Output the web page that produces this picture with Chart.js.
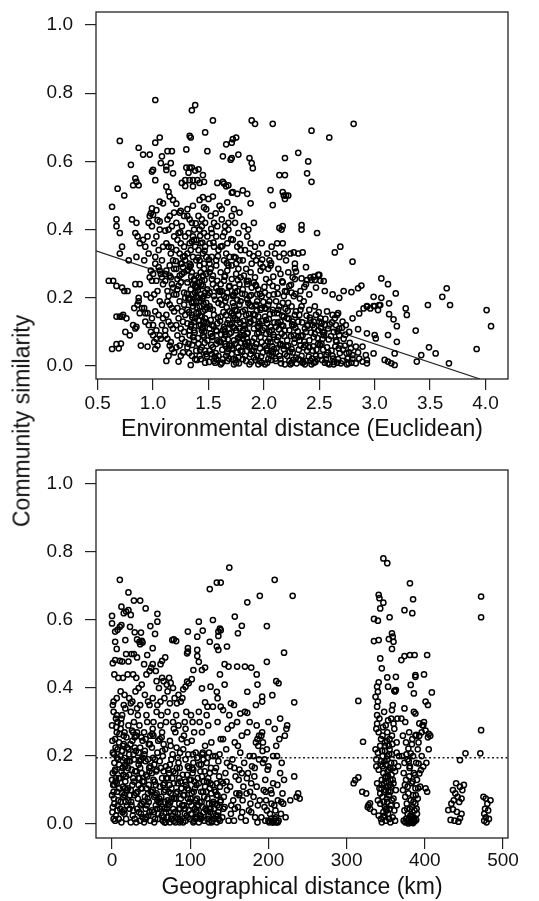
<!DOCTYPE html>
<html lang="en">
<head>
<meta charset="UTF-8">
<title>Community similarity vs distance</title>
<script src="https://cdn.jsdelivr.net/npm/chart.js"></script>
<style>
  body { margin: 0; background: #fff; font-family: "Liberation Sans", Arial, sans-serif; }
  .panel { position: absolute; left: 0; width: 539px; }
  #top { top: 0; height: 450px; }
  #bottom { top: 450px; height: 451px; }
  .ytitle {
    position: absolute; left: 22px; top: 421px;
    transform: translate(-50%, -50%) rotate(-90deg);
    font-size: 23px; color: #111; white-space: nowrap;
  }
</style>
</head>
<body>
<div class="panel" id="top"><canvas id="envChart" width="539" height="450"></canvas></div>
<div class="panel" id="bottom"><canvas id="geoChart" width="539" height="451"></canvas></div>
<div class="ytitle">Community similarity</div>

<script>
// Tick labels
const envTicks = [0.5, 1.0, 1.5, 2.0, 2.5, 3.0, 3.5, 4.0];
const geoTicks = [0, 100, 200, 300, 400, 500];
const simTicks = [0.0, 0.2, 0.4, 0.6, 0.8, 1.0];

// Fitted line (top) and mean similarity (bottom)
const fitX = [0.485, 3.95];
const fitY = [0.338, -0.038];
const meanSim = 0.195;

// Top panel: [environmental distance, community similarity]
const envSim = [
[1.02,.78],[1.38,.765],[1.35,.75],[1.54,.72],[1.89,.72],[1.92,.71],[2.08,.71],[2.81,.71],[2.43,.69],[2.59,.67],
[.70,.66],[1.02,.655],[1.06,.67],[1.33,.675],[1.34,.67],[1.47,.685],[1.66,.65],[1.71,.655],[1.72,.665],[1.75,.67],
[.87,.64],[.91,.62],[.97,.62],[1.08,.615],[1.13,.63],[1.17,.63],[1.30,.635],[1.49,.63],[1.63,.615],[1.70,.605],
[1.71,.61],[1.77,.62],[1.87,.61],[1.89,.595],[1.90,.58],[2.19,.61],[2.31,.625],[2.40,.60],[2.39,.565],[2.43,.54],
[.80,.59],[1.00,.575],[.99,.57],[1.02,.545],[1.07,.595],[1.12,.585],[1.16,.595],[1.12,.575],[1.18,.565],
[1.32,.567],[1.30,.582],[1.33,.582],[1.35,.582],[1.38,.573],[1.41,.577],[1.45,.56],[1.40,.545],[1.36,.545],[1.33,.545],
[1.29,.545],[1.26,.537],[1.29,.528],[1.36,.527],[1.42,.537],[1.46,.54],[1.58,.537],[1.63,.54],[1.64,.535],[1.66,.527],[1.68,.53],
[1.71,.508],[1.72,.51],[1.76,.505],[1.81,.515],[1.85,.505],[1.88,.477],[2.06,.516],[2.08,.472],[2.17,.51],[2.18,.50],
[2.20,.50],[2.22,.50],[2.19,.49],[2.14,.56],[2.19,.56],[1.54,.497],[1.50,.49],[1.45,.495],[1.42,.487],[1.46,.465],[1.48,.46],
[1.12,.526],[1.14,.511],[1.15,.497],[1.18,.487],[1.21,.476],[1.06,.482],[1.09,.477],[.99,.462],[1.03,.457],[.98,.448],[1.00,.443],
[.63,.467],[.68,.52],[.74,.50],[.82,.53],[.84,.55],[.85,.54],[.87,.53],[1.60,.47],[1.62,.46],[1.67,.48],[1.73,.46],[1.78,.45],
[1.36,.47],[1.31,.46],[1.25,.455],
[.67,.43],[.67,.41],[.70,.39],[.72,.35],[.70,.33],[.81,.43],[.85,.42],[.84,.39],[.86,.38],[.88,.36],[.85,.32],[.78,.31],
[.91,.37],[.93,.35],[.95,.38],[.97,.44],[.96,.42],[.92,.31],[.96,.33],[.99,.41],
[1.04,.428],[1.06,.424],[1.06,.40],[1.11,.397],[1.01,.36],[1.03,.38],[1.05,.34],[1.08,.31],[1.09,.35],[1.02,.32],
[1.13,.43],[1.15,.44],[1.17,.41],[1.19,.45],[1.12,.36],[1.14,.35],[1.16,.33],[1.18,.31],[1.19,.38],[1.14,.40],
[1.24,.45],[1.28,.44],[1.21,.42],[1.26,.41],[1.23,.39],[1.29,.38],[1.22,.37],[1.25,.36],[1.28,.35],[1.21,.34],
[1.24,.33],[1.27,.32],[1.29,.31],[1.26,.30],
[1.31,.44],[1.33,.43],[1.35,.42],[1.37,.40],[1.32,.39],[1.36,.38],[1.39,.37],[1.33,.36],[1.38,.35],[1.34,.34],
[1.31,.33],[1.36,.32],[1.39,.31],[1.33,.30],[1.37,.37],[1.35,.365],
[1.41,.44],[1.44,.43],[1.47,.42],[1.42,.40],[1.46,.39],[1.49,.38],[1.43,.36],[1.47,.35],[1.41,.34],[1.45,.33],
[1.48,.32],[1.42,.31],[1.46,.30],[1.44,.41],
[1.52,.44],[1.55,.42],[1.58,.41],[1.53,.39],[1.57,.38],[1.51,.36],[1.55,.35],[1.59,.34],[1.53,.32],[1.57,.31],[1.51,.30],
[1.62,.43],[1.65,.41],[1.68,.40],[1.63,.38],[1.67,.36],[1.61,.35],[1.66,.33],[1.69,.32],[1.64,.31],[1.68,.42],
[1.71,.44],[1.74,.42],[1.77,.39],[1.72,.37],[1.76,.35],[1.79,.34],[1.73,.32],[1.78,.31],[1.75,.30],
[1.82,.41],[1.85,.38],[1.88,.36],[1.83,.34],[1.87,.33],[1.81,.31],[1.89,.30],[1.86,.40],
[1.92,.35],[1.95,.33],[1.98,.36],[1.93,.31],[1.97,.30],[1.91,.42],
[2.03,.33],[2.07,.35],[2.10,.33],[2.05,.31],[2.14,.32],[2.18,.33],[2.12,.36],[2.16,.40],[2.17,.41],[2.14,.405],
[2.34,.413],[2.34,.40],[2.48,.39],[2.17,.36],[2.24,.33],[2.31,.33],[2.27,.333],[2.35,.333],[2.38,.29],[2.64,.333],
[2.69,.35],[2.80,.306],[2.20,.31],[2.28,.30],
[.60,.25],[.64,.25],[.67,.235],[.72,.23],[.74,.22],[.77,.22],[.84,.24],[.88,.24],[.87,.20],[.94,.21],[.98,.20],
[.98,.28],[.97,.26],[.99,.25],[1.02,.30],[1.05,.29],[1.07,.27],[1.00,.27],[1.03,.25],[1.09,.24],[1.04,.22],[1.01,.21],
[1.06,.28],[1.08,.26],
[1.11,.27],[1.13,.22],[1.15,.295],[1.17,.24],[1.19,.21],[1.12,.28],[1.14,.205],[1.16,.26],[1.18,.23],[1.11,.25],[1.15,.265],[1.19,.285],
[1.22,.255],[1.25,.30],[1.28,.215],[1.21,.285],[1.23,.235],[1.26,.27],[1.29,.20],[1.22,.225],[1.25,.245],[1.27,.29],[1.21,.21],[1.24,.265],[1.28,.275],
[1.31,.245],[1.33,.29],[1.36,.21],[1.39,.265],[1.32,.20],[1.35,.275],[1.38,.235],[1.31,.28],[1.34,.225],[1.37,.255],[1.39,.205],[1.34,.295],[1.36,.24],[1.38,.215],
[1.41,.26],[1.43,.21],[1.46,.285],[1.49,.225],[1.42,.295],[1.45,.235],[1.48,.27],[1.41,.20],[1.44,.25],[1.47,.215],[1.43,.275],[1.46,.205],[1.40,.23],[1.42,.245],[1.45,.265],
[1.51,.215],[1.54,.265],[1.57,.23],[1.52,.285],[1.55,.205],[1.58,.25],[1.51,.275],[1.54,.24],[1.57,.295],[1.59,.22],[1.53,.255],
[1.61,.24],[1.64,.205],[1.67,.28],[1.62,.22],[1.65,.265],[1.68,.295],[1.61,.275],[1.64,.25],[1.67,.215],[1.69,.235],[1.66,.20],
[1.71,.255],[1.74,.215],[1.77,.285],[1.72,.205],[1.75,.27],[1.78,.24],[1.71,.295],[1.74,.23],[1.79,.26],[1.76,.22],
[1.81,.225],[1.84,.285],[1.87,.205],[1.82,.265],[1.85,.24],[1.88,.275],[1.83,.21],[1.86,.25],[1.89,.23],
[1.91,.245],[1.94,.21],[1.97,.28],[1.92,.26],[1.95,.225],[1.99,.29],[1.93,.235],[1.98,.205],
[2.01,.215],[2.04,.285],[2.08,.235],[2.02,.255],[2.06,.295],[2.09,.21],[2.05,.245],
[2.12,.23],[2.15,.27],[2.18,.205],[2.13,.285],[2.17,.245],[2.19,.22],
[2.22,.275],[2.25,.215],[2.28,.255],[2.23,.235],[2.27,.205],
[2.28,.287],[2.29,.277],[2.26,.26],[2.34,.257],[2.39,.252],[2.42,.26],[2.46,.252],[2.50,.267],[2.54,.249],
[2.45,.262],[2.49,.267],[2.43,.252],[2.51,.25],[2.33,.22],[2.38,.24],[2.41,.21],[2.47,.23],[2.55,.22],[2.62,.21],
[2.68,.20],[2.72,.22],[2.79,.217],[2.85,.228],[2.88,.236],[3.06,.257],[3.12,.24],[3.19,.213],[3.65,.228],[3.61,.203],
[2.99,.203],[3.06,.20],
[.67,.145],[.70,.145],[.73,.15],[.72,.145],[.76,.14],[.75,.10],[.84,.11],[.85,.115],[.82,.12],[.86,.18],[.87,.19],
[.83,.17],[.88,.155],[.90,.17],[.92,.17],[.93,.155],[.95,.155],[.93,.13],[.96,.12],[.98,.10],[.99,.14],
[1.02,.16],[1.05,.15],[1.09,.14],[1.00,.12],[1.08,.12],[1.06,.19],[1.08,.18],[1.03,.105],
[1.13,.19],[1.15,.18],[1.17,.17],[1.19,.16],[1.12,.15],[1.14,.13],[1.16,.12],[1.18,.11],[1.11,.105],
[1.24,.19],[1.28,.18],[1.22,.17],[1.26,.16],[1.29,.15],[1.23,.14],[1.27,.13],[1.21,.12],[1.25,.11],[1.28,.10],
[1.31,.165],[1.33,.105],[1.35,.185],[1.37,.13],[1.39,.155],[1.32,.195],[1.34,.115],[1.36,.175],[1.38,.14],[1.31,.125],[1.35,.15],[1.37,.105],[1.39,.19],
[1.41,.135],[1.43,.19],[1.45,.11],[1.47,.165],[1.49,.125],[1.42,.175],[1.44,.145],[1.46,.10],[1.48,.185],[1.41,.155],[1.43,.12],[1.45,.16],[1.47,.14],[1.44,.105],[1.46,.13],
[1.51,.175],[1.53,.12],[1.55,.15],[1.57,.105],[1.59,.185],[1.52,.135],[1.54,.165],[1.56,.195],[1.58,.125],[1.51,.11],
[1.61,.145],[1.63,.105],[1.65,.19],[1.67,.125],[1.69,.16],[1.62,.18],[1.64,.115],[1.66,.15],[1.68,.135],[1.61,.195],[1.65,.10],
[1.71,.125],[1.73,.175],[1.75,.105],[1.77,.15],[1.79,.19],[1.72,.115],[1.74,.165],[1.76,.135],[1.78,.18],[1.71,.155],[1.74,.14],[1.76,.195],[1.78,.11],[1.72,.185],
[1.81,.16],[1.83,.11],[1.85,.195],[1.87,.14],[1.89,.175],[1.82,.12],[1.84,.15],[1.86,.185],[1.88,.13],[1.81,.105],[1.83,.165],[1.87,.125],
[1.91,.135],[1.93,.18],[1.95,.115],[1.97,.165],[1.99,.105],[1.92,.15],[1.94,.19],[1.96,.125],[1.98,.17],[1.91,.11],[1.95,.145],
[2.01,.17],[2.03,.125],[2.05,.19],[2.07,.105],[2.09,.155],[2.02,.135],[2.04,.18],[2.06,.115],[2.08,.165],[2.01,.145],[2.05,.10],
[2.11,.115],[2.13,.165],[2.15,.13],[2.17,.185],[2.19,.105],[2.12,.155],[2.14,.175],[2.16,.12],[2.18,.145],[2.11,.19],
[2.21,.14],[2.23,.105],[2.25,.175],[2.27,.12],[2.29,.16],[2.22,.185],[2.26,.13],[2.28,.15],
[2.31,.13],[2.34,.175],[2.37,.11],[2.32,.15],[2.36,.19],[2.39,.12],[2.33,.165],[2.38,.10],
[2.41,.165],[2.44,.12],[2.47,.15],[2.42,.135],[2.46,.175],[2.49,.105],[2.45,.13],
[2.51,.14],[2.50,.13],[2.52,.125],[2.55,.12],[2.58,.11],[2.53,.10],[2.57,.16],
[2.62,.15],[2.64,.14],[2.66,.15],[2.67,.155],[2.65,.12],[2.68,.11],[2.63,.10],[2.71,.13],[2.74,.12],[2.77,.10],[2.80,.14],
[2.86,.154],[2.90,.169],[2.93,.176],[2.99,.176],[3.03,.164],[3.05,.179],[2.93,.174],[2.96,.169],[3.00,.176],[3.04,.179],
[3.13,.184],[3.28,.169],[3.29,.15],[3.20,.117],[3.17,.137],[3.13,.152],[3.48,.179],[3.68,.179],[4.01,.164],[4.05,.117],
[3.37,.104],[2.85,.108],[2.93,.096],[3.00,.091],[3.01,.081],
[.63,.05],[.67,.064],[.69,.052],[.71,.066],[.79,.09],[.89,.06],[.95,.057],
[1.00,.09],[1.01,.07],[1.04,.06],[1.03,.08],[1.06,.09],[1.02,.05],[1.07,.08],
[1.11,.09],[1.13,.08],[1.15,.06],[1.17,.05],[1.19,.04],[1.14,.03],[1.12,.015],[1.16,.07],
[1.22,.09],[1.26,.08],[1.29,.07],[1.24,.06],[1.27,.04],[1.23,.013],[1.25,.03],[1.21,.055],
[1.31,.055],[1.33,.09],[1.35,.03],[1.37,.075],[1.39,.045],[1.32,.065],[1.34,.003],[1.36,.085],[1.38,.02],
[1.41,.065],[1.43,.02],[1.45,.09],[1.47,.045],[1.49,.075],[1.42,.03],[1.44,.055],[1.47,.01],[1.46,.085],[1.48,.035],
[1.51,.045],[1.53,.085],[1.55,.015],[1.57,.065],[1.59,.03],[1.52,.095],[1.54,.055],[1.56,.01],[1.58,.075],[1.53,.035],[1.57,.02],
[1.61,.07],[1.63,.02],[1.65,.09],[1.67,.04],[1.69,.06],[1.62,.01],[1.64,.08],[1.66,.03],[1.68,.05],[1.61,.005],[1.65,.065],[1.67,.015],[1.69,.095],
[1.71,.035],[1.73,.075],[1.75,.01],[1.77,.055],[1.79,.09],[1.72,.02],[1.74,.065],[1.76,.04],[1.78,.085],[1.71,.06],[1.73,.005],[1.77,.025],[1.79,.045],
[1.81,.08],[1.83,.03],[1.85,.06],[1.87,.005],[1.89,.045],[1.82,.09],[1.84,.015],[1.86,.07],[1.88,.035],[1.81,.02],[1.85,.095],[1.87,.055],[1.83,.065],
[1.91,.025],[1.93,.065],[1.95,.005],[1.97,.085],[1.99,.04],[1.92,.055],[1.94,.095],[1.96,.015],[1.98,.07],[1.91,.045],[1.94,.03],[1.98,.01],
[2.01,.06],[2.03,.01],[2.05,.08],[2.07,.03],[2.09,.05],[2.02,.095],[2.04,.02],[2.06,.07],[2.08,.04],[2.01,.005],[2.05,.035],[2.09,.085],[2.03,.045],
[2.11,.04],[2.13,.085],[2.15,.02],[2.17,.06],[2.19,.005],[2.12,.075],[2.14,.03],[2.16,.095],[2.18,.05],[2.11,.015],[2.15,.065],[2.19,.035],
[2.21,.075],[2.23,.015],[2.25,.05],[2.27,.09],[2.29,.025],[2.22,.06],[2.24,.005],[2.26,.04],[2.28,.08],[2.21,.03],[2.25,.01],
[2.31,.02],[2.33,.06],[2.35,.09],[2.37,.005],[2.39,.045],[2.32,.075],[2.34,.03],[2.36,.055],[2.38,.015],[2.31,.085],[2.35,.01],
[2.41,.055],[2.43,.005],[2.45,.085],[2.47,.03],[2.49,.065],[2.42,.015],[2.44,.045],[2.46,.095],[2.48,.02],[2.41,.075],[2.45,.01],
[2.51,.03],[2.53,.08],[2.55,.01],[2.57,.055],[2.59,.005],[2.52,.065],[2.56,.02],[2.58,.04],[2.54,.09],
[2.61,.045],[2.63,.005],[2.65,.075],[2.67,.02],[2.69,.06],[2.62,.03],[2.66,.01],[2.68,.09],
[2.71,.015],[2.73,.06],[2.75,.005],[2.77,.04],[2.72,.08],[2.76,.025],[2.79,.01],
[2.80,.032],[2.80,.022],[2.83,.008],[2.86,.022],[2.89,.013],[2.89,.057],[2.83,.057],[2.85,.04],
[2.93,.018],[2.93,.008],[2.92,.032],[2.99,.037],[3.12,.091],[3.20,.071],[3.18,.037],[3.15,.008],[3.18,.003],[3.12,.013],[3.09,.018],
[3.67,.008],[3.55,.037],[3.49,.055],[3.42,.032],[3.38,.013],[3.92,.05]
];

// Top panel, the densest part of the cloud
const envDense = [
[1.505,.012],[1.525,.062],[1.545,.118],[1.565,.038],[1.585,.142],[1.515,.168],[1.535,.088],[1.555,.028],[1.575,.102],[1.595,.072],
[1.605,.132],[1.625,.048],[1.645,.108],[1.665,.172],[1.685,.022],[1.615,.092],[1.635,.158],[1.655,.058],[1.675,.078],[1.695,.122],
[1.705,.098],[1.725,.148],[1.745,.018],[1.765,.082],[1.785,.128],[1.715,.052],[1.735,.112],[1.755,.162],[1.775,.008],[1.795,.068],
[1.805,.042],[1.825,.118],[1.845,.082],[1.865,.152],[1.885,.012],[1.815,.132],[1.835,.058],[1.855,.098],[1.875,.178],[1.895,.072],
[1.905,.152],[1.925,.018],[1.945,.118],[1.965,.052],[1.985,.132],[1.915,.082],[1.935,.162],[1.955,.098],[1.975,.028],[1.995,.188],
[2.005,.112],[2.025,.052],[2.045,.138],[2.065,.018],[2.085,.092],[2.015,.168],[2.035,.072],[2.055,.152],[2.075,.058],[2.095,.128],
[2.105,.022],[2.125,.128],[2.145,.062],[2.165,.148],[2.185,.088],[2.115,.052],[2.135,.108],[2.155,.008],[2.175,.118],[2.195,.168],
[2.205,.058],[2.225,.138],[2.245,.088],[2.265,.018],[2.285,.112],[2.215,.162],[2.235,.042],[2.255,.122],[2.275,.068],[2.295,.008],
[2.305,.102],[2.325,.018],[2.345,.128],[2.365,.072],[2.385,.148],[2.315,.048],[2.335,.088],[2.355,.012],[2.375,.062],[2.395,.118],
[2.405,.028],[2.425,.098],[2.445,.058],[2.465,.012],[2.485,.082],[2.415,.142],[2.435,.022],[2.455,.112],[2.475,.048],[2.495,.158],
[2.505,.062],[2.525,.018],[2.545,.098],[2.565,.032],[2.585,.078],[2.515,.112],[2.535,.048],[2.555,.138],[2.575,.008],[2.595,.122],
[2.605,.088],[2.625,.022],[2.645,.058],[2.665,.102],[2.685,.038],[2.615,.128],[2.635,.012],[2.655,.072],[2.675,.052],[2.695,.008],
[2.715,.048],[2.735,.092],[2.755,.022],[2.775,.068],[2.705,.112],[2.745,.038],[2.765,.008],[2.785,.052],
[1.305,.212],[1.325,.158],[1.345,.262],[1.365,.188],[1.385,.232],[1.315,.282],[1.335,.198],[1.355,.142],[1.375,.252],[1.395,.172],
[1.405,.222],[1.425,.148],[1.445,.198],[1.465,.252],[1.485,.172],[1.415,.118],[1.435,.238],[1.455,.182],[1.475,.128],[1.495,.208],
[1.405,.082],[1.425,.048],[1.445,.112],[1.465,.068],[1.485,.028],[1.355,.062],[1.375,.098],[1.395,.018],[1.325,.038],[1.345,.122],
[1.605,.218],[1.645,.262],[1.685,.232],[1.725,.208],[1.765,.252],[1.805,.212],[1.845,.248],[1.885,.208],[1.925,.238],[1.965,.212],
[2.005,.232],[2.045,.208],[2.085,.262],[2.125,.212],[2.165,.248],[2.205,.218],[2.245,.238],[2.285,.212],[2.325,.198],[2.365,.232],
[1.505,.312],[1.545,.362],[1.585,.322],[1.625,.352],[1.665,.302],[1.705,.372],[1.745,.318],[1.785,.358],[1.245,.392],[1.285,.322],
[1.165,.348],[1.205,.308],[1.385,.418],[1.425,.382],[1.465,.338],[1.525,.402],[1.565,.448],[1.645,.392],[1.905,.322],[1.985,.312],
[2.065,.302],[1.405,.318],[1.445,.362]
];

// Bottom panel: [geographical distance (km), community similarity]
const geoSim = [
[10,.718],[21,.681],[12,.639],[15,.62],[18,.625],[21,.629],[24,.615],[28,.657],[36,.657],[43,.634],[58,.618],[58,.595],
[0,.612],[0,.59],[4,.566],[10,.58],[7,.571],[12,.585],[23,.58],[29,.564],[37,.563],[49,.582],[4,.536],[6,.515],[4,.482],
[1,.473],[17,.541],[32,.543],[35,.536],[38,.539],[36,.529],[39,.534],[52,.517],[55,.559],[45,.497],
[10,.48],[13,.478],[18,.50],[21,.478],[25,.50],[28,.50],[32,.49],[41,.47],[50,.46],[56,.45],[62,.47],[64,.48],[68,.49],
[77,.541],[79,.543],[82,.538],[97,.566],[97,.517],[97,.507],[111,.595],[116,.569],[109,.551],[109,.512],[109,.494],
[129,.60],[125,.536],[136,.553],[136,.566],[138,.575],[134,.522],[136,.512],[139,.57],
[150,.754],[125,.691],[134,.71],[139,.71],[173,.652],[189,.671],[208,.718],[231,.671],[157,.61],[166,.583],[161,.561],
[198,.582],[198,.477],[147,.522],[149,.463],[160,.463],[170,.463],[220,.504],
[173,.389],[192,.375],[192,.36],[213,.414],[205,.379],[233,.358],[115,.399],[126,.404],[134,.389],[135,.37],[94,.404],
[91,.396],[98,.414],[96,.419],[102,.426],[115,.453],[104,.453],[96,.502],[111,.477],[119,.358],
[3,.44],[8,.43],[14,.43],[20,.44],[27,.44],[31,.43],[44,.44],[48,.45],[52,.47],[57,.42],[60,.40],[64,.43],[66,.42],
[70,.41],[73,.43],[75,.415],[78,.40],[71,.39],[80,.37],[85,.38],[88,.36],
[2,.36],[6,.37],[11,.39],[16,.38],[22,.37],[26,.36],[30,.39],[34,.40],[38,.41],[42,.38],[46,.36],[52,.37],[58,.35],
[62,.36],[67,.37],[74,.355],[83,.355],[90,.37],[1,.35],[15,.35],[24,.355],[36,.35],[48,.35],
[152,.355],[156,.35],[164,.325],[173,.327],[122,.345],[129,.345],[139,.345],[142,.335],[144,.41],[138,.44],[184,.35],
[186,.41],[200,.30],[210,.42],[178,.46],[185,.44],[144,.47],[119,.46],
[1,.21],[3,.06],[0,.29],[5,.135],[2,.33],[7,.04],[4,.25],[9,.105],[1,.15],[6,.27],[3,.115],[8,.19],[0,.085],[5,.31],
[2,.015],[7,.22],[4,.16],[9,.24],[1,.05],[6,.12],[3,.18],[8,.07],[2,.095],[5,.025],[0,.13],[4,.01],[7,.30],[9,.175],[6,.32],
[11,.065],[14,.23],[17,.125],[12,.31],[15,.04],[19,.185],[13,.09],[16,.27],[18,.015],[11,.20],[14,.11],[17,.34],[12,.155],
[15,.26],[19,.055],[13,.215],[16,.03],[18,.14],[11,.28],[14,.08],[17,.17],[12,.005],[15,.235],[19,.10],[13,.32],[16,.195],
[22,.145],[25,.055],[28,.30],[21,.22],[24,.10],[27,.27],[29,.015],[23,.185],[26,.245],[21,.07],[28,.125],[24,.33],
[27,.04],[22,.205],[25,.16],[29,.255],[23,.085],[26,.115],[21,.29],[28,.19],[24,.005],[27,.135],[29,.225],
[31,.09],[34,.21],[37,.03],[32,.27],[35,.135],[38,.06],[33,.32],[36,.165],[39,.245],[31,.005],[34,.115],[37,.19],
[32,.045],[35,.29],[38,.15],[33,.075],[36,.225],[39,.02],[31,.26],[34,.175],[37,.105],[32,.34],[36,.01],[39,.125],
[41,.125],[44,.02],[47,.235],[42,.08],[45,.30],[48,.155],[43,.045],[46,.19],[49,.01],[41,.27],[44,.105],[47,.065],
[42,.215],[45,.14],[48,.035],[43,.25],[46,.09],[49,.17],[41,.005],[44,.32],[47,.115],[43,.185],[49,.26],
[51,.04],[54,.175],[57,.09],[52,.28],[55,.015],[58,.21],[53,.13],[56,.055],[59,.245],[51,.15],[54,.005],[57,.33],
[52,.10],[55,.19],[58,.07],[53,.26],[56,.115],[59,.03],[51,.225],[54,.08],[57,.16],[53,.30],
[61,.185],[64,.05],[67,.12],[62,.29],[65,.01],[68,.22],[63,.08],[66,.155],[69,.035],[61,.25],[64,.135],[67,.005],
[62,.065],[65,.20],[68,.10],[63,.32],[66,.02],[69,.17],[61,.11],[64,.27],[67,.045],[69,.30],[66,.235],
[71,.07],[74,.245],[77,.015],[72,.16],[75,.09],[78,.30],[73,.035],[76,.19],[79,.12],[71,.33],[74,.005],[77,.135],
[72,.06],[75,.23],[78,.045],[73,.15],[76,.105],[79,.28],[71,.02],[74,.175],[77,.075],[79,.01],
[81,.15],[84,.03],[87,.21],[82,.09],[85,.29],[88,.01],[83,.165],[86,.06],[89,.25],[81,.005],[84,.12],[87,.045],
[82,.32],[85,.18],[88,.075],[83,.02],[86,.135],[89,.105],[81,.27],[84,.195],[87,.015],
[91,.085],[94,.19],[97,.02],[92,.26],[95,.115],[98,.04],[93,.30],[96,.145],[99,.065],[91,.22],[94,.01],[97,.17],
[92,.055],[95,.33],[98,.10],[93,.03],[96,.24],[99,.13],[91,.005],[94,.28],[97,.075],
[101,.03],[104,.16],[107,.07],[102,.245],[105,.01],[108,.115],[103,.30],[106,.045],[109,.195],[101,.13],[104,.005],
[107,.21],[102,.09],[105,.27],[108,.02],[103,.15],[106,.105],[109,.055],[101,.32],[104,.18],[108,.04],
[111,.12],[114,.02],[117,.19],[112,.065],[115,.27],[118,.01],[113,.155],[116,.05],[119,.23],[111,.005],[114,.095],
[117,.035],[112,.30],[115,.14],[118,.08],[113,.025],[116,.21],[119,.11],[111,.33],[114,.175],
[121,.04],[124,.21],[127,.09],[122,.015],[125,.15],[128,.06],[123,.29],[126,.12],[129,.03],[121,.18],[124,.005],
[127,.24],[122,.075],[125,.105],[128,.01],[123,.135],[126,.045],[129,.20],[121,.32],[124,.06],
[131,.015],[134,.12],[137,.05],[132,.20],[135,.085],[138,.01],[133,.165],[136,.035],[139,.25],[131,.10],[134,.005],
[137,.14],[132,.06],[135,.30],[138,.11],[133,.025],[136,.185],[139,.07],
[141,.02],[143,.08],[145,.15],[146,.22],[148,.28],[142,.12],[144,.05],[147,.18],[149,.01],[142,.25],
[151,.11],[152,.03],[154,.19],[155,.07],[157,.24],[158,.14],[153,.29],[156,.01],[159,.09],[151,.17],
[161,.05],[162,.13],[164,.21],[165,.02],[166,.26],[168,.11],[163,.16],[167,.07],[169,.18],[161,.23],
[171,.01],[172,.09],[174,.15],[175,.04],[176,.20],[178,.12],[173,.27],[177,.06],[179,.17],
[181,.08],[183,.02],[184,.24],[186,.25],[187,.23],[189,.07],[182,.14],[185,.11],[188,.19],[186,.005],
[191,.26],[192,.27],[193,.18],[194,.10],[195,.05],[196,.13],[197,.07],[198,.22],[199,.16],[191,.02],[193,.24],
[200,.01],[201,.005],[203,.10],[204,.09],[205,.005],[206,.12],[207,.01],[208,.28],[209,.04],[210,.005],[211,.20],
[212,.07],[213,.01],[214,.25],[215,.15],[216,.03],[217,.18],[218,.09],[219,.06],[220,.13],[222,.02],[221,.26],[224,.29],
[228,.07],[233,.14],[236,.08],[240,.075],[238,.09],[196,.01],[202,.03],[208,.015],[212,.005],[198,.04],[204,.06],
[206,.20],[210,.23],[185,.29],[188,.26],[176,.30],[160,.30],[150,.32],[170,.33],[215,.31],[223,.28],[200,.17],
[195,.19],[163,.09],[157,.045],[147,.10],[178,.035],[166,.15],[181,.20],
[309,.12],[311,.129],[315,.137],[320,.095],[325,.09],[328,.056],[335,.036],[330,.061],[321,.242],[315,.362],[330,.045],[327,.05],
[347,.781],[352,.767],[341,.674],[342,.664],[347,.651],[343,.634],[355,.608],[335,.603],[340,.598],[335,.538],[341,.541],
[358,.561],[359,.551],[354,.544],[360,.536],[358,.515],[343,.487],[345,.458],[341,.417],[339,.404],[340,.389],[352,.431],
[353,.404],[361,.392],[362,.39],[363,.394],[363,.433],[337,.374],[340,.36],[339,.345],[359,.35],[358,.335],
[339,.32],[342,.31],[339,.295],[353,.305],[357,.31],[360,.295],[365,.31],[370,.31],[348,.33],[350,.29],
[381,.708],[385,.661],[384,.620],[374,.629],[370,.482],[374,.494],[381,.497],[387,.497],[403,.497],[382,.409],[388,.438],
[388,.433],[399,.44],[386,.384],[409,.387],[401,.36],[404,.35],[374,.34],[386,.33],[388,.325],[393,.296],[397,.291],[375,.30],
[338,.28],[341,.27],[344,.25],[346,.26],[349,.24],[352,.27],[355,.25],[358,.26],[361,.28],[364,.24],
[337,.22],[340,.21],[343,.23],[346,.20],[349,.215],[352,.19],[355,.22],[358,.205],[361,.18],[364,.21],
[338,.17],[341,.16],[344,.185],[347,.15],[350,.175],[353,.14],[356,.165],[359,.13],[362,.155],[345,.13],
[339,.12],[342,.105],[345,.115],[348,.095],[351,.125],[354,.085],[357,.11],[360,.075],[363,.10],[350,.10],
[340,.07],[343,.06],[346,.08],[349,.05],[352,.065],[355,.045],[358,.07],[361,.04],[364,.055],[347,.035],
[341,.025],[344,.015],[347,.02],[350,.01],[353,.03],[356,.005],[359,.02],[362,.01],[345,.005],[351,.04],
[348,.12],[353,.11],[356,.095],[350,.14],[354,.16],[357,.18],[352,.20],[349,.23],[354,.23],[356,.13],[346,.17],
[343,.09],[360,.12],[338,.19],[366,.17],[367,.20],
[372,.26],[376,.24],[380,.27],[384,.25],[388,.26],[392,.24],[379,.222],[382,.208],[389,.262],
[371,.20],[374,.18],[378,.19],[381,.17],[385,.20],[389,.18],[392,.178],[395,.159],[398,.169],[393,.149],
[373,.15],[376,.13],[380,.14],[383,.12],[386,.15],[390,.13],[394,.11],[378,.11],[388,.105],
[372,.10],[375,.08],[379,.09],[382,.07],[385,.085],[388,.06],[391,.075],[384,.05],[377,.06],
[374,.04],[378,.03],[381,.045],[384,.025],[387,.04],[390,.03],[380,.015],
[373,.01],[375,.005],[378,.01],[381,.005],[383,.01],[385,.003],[387,.008],[389,.012],[386,.018],[382,.02],[379,.002],[376,.015],
[401,.105],[403,.095],[393,.26],[396,.27],[401,.275],[405,.265],[407,.26],[404,.255],[405,.22],[398,.29],[399,.30],
[396,.20],[402,.18],[391,.22],
[430,.041],[436,.043],[441,.036],[445,.017],[443,.007],[434,.06],[437,.07],[439,.09],[442,.08],[444,.065],[447,.075],
[445,.11],[448,.10],[450,.115],[436,.10],[440,.12],[445,.188],[452,.208],[433,.012],[438,.01],[447,.03],
[472,.669],[472,.608],[472,.276],[471,.208],[475,.08],[478,.075],[480,.06],[477,.045],[476,.03],[478,.02],[482,.015],
[484,.07],[481,.04],[479,.005],[476,.01]
];

// Bottom panel, the densest part of the cloud
const geoDense = [
[2.5,.205],[5.5,.285],[8.5,.135],[0.5,.035],[3.5,.155],[6.5,.095],[9.5,.265],[1.5,.115],[4.5,.225],[7.5,.055],[2.5,.075],[6.5,.195],[0.5,.245],[8.5,.015],[4.5,.125],
[10.5,.045],[13.5,.165],[16.5,.105],[19.5,.225],[11.5,.295],[14.5,.145],[17.5,.065],[12.5,.215],[15.5,.085],[18.5,.255],[10.5,.135],[13.5,.035],[16.5,.175],
[20.5,.105],[23.5,.235],[26.5,.025],[29.5,.155],[21.5,.185],[24.5,.065],[27.5,.205],[22.5,.045],[25.5,.275],[28.5,.085],[20.5,.165],
[30.5,.215],[33.5,.135],[36.5,.055],[39.5,.195],[31.5,.155],[34.5,.035],[37.5,.255],[32.5,.095],[35.5,.185],[38.5,.105],
[40.5,.065],[43.5,.145],[46.5,.025],[49.5,.095],[41.5,.205],[44.5,.055],[47.5,.165],[42.5,.015],[45.5,.075],[48.5,.235],
[50.5,.095],[53.5,.035],[56.5,.155],[59.5,.065],[51.5,.265],[54.5,.125],[57.5,.045],[52.5,.195],[55.5,.085],[58.5,.015],
[60.5,.075],[63.5,.025],[66.5,.095],[69.5,.135],[61.5,.045],[64.5,.215],[67.5,.065],[62.5,.165],[65.5,.115],[68.5,.005],[63.5,.255],
[70.5,.045],[73.5,.115],[76.5,.025],[79.5,.075],[71.5,.135],[74.5,.065],[77.5,.205],[72.5,.095],[75.5,.015],[78.5,.155],[73.5,.055],
[80.5,.035],[83.5,.095],[86.5,.165],[89.5,.055],[81.5,.075],[84.5,.015],[87.5,.125],[82.5,.225],[85.5,.045],[88.5,.105],[86.5,.005],
[90.5,.145],[93.5,.045],[96.5,.105],[99.5,.015],[91.5,.055],[94.5,.125],[97.5,.205],[92.5,.085],[95.5,.025],[98.5,.165],
[100.5,.075],[103.5,.205],[106.5,.015],[109.5,.135],[101.5,.055],[104.5,.095],[107.5,.035],[102.5,.165],[105.5,.125],[108.5,.075],
[110.5,.055],[113.5,.015],[116.5,.095],[119.5,.045],[111.5,.175],[114.5,.065],[117.5,.125],[112.5,.025],[115.5,.205],[118.5,.155],
[120.5,.095],[123.5,.025],[126.5,.165],[129.5,.065],[121.5,.125],[124.5,.045],[127.5,.005],[122.5,.195],[125.5,.035],[128.5,.115],
[130.5,.045],[133.5,.085],[136.5,.015],[139.5,.125],[131.5,.155],[134.5,.055],[137.5,.205],[132.5,.095],[135.5,.025],[138.5,.065],
[142.5,.045],[146.5,.125],[152.5,.055],[156.5,.165],[162.5,.085],[166.5,.035],[172.5,.135],[176.5,.095],[182.5,.165],[186.5,.055],
[192.5,.215],[196.5,.095],[203.5,.015],[207.5,.055],[211.5,.115],[216.5,.065],[206.5,.005],[209.5,.02],
[345.5,.215],[348.5,.185],[351.5,.245],[354.5,.205],[357.5,.145],[344.5,.105],[347.5,.065],[350.5,.045],[353.5,.095],[356.5,.055],
[359.5,.165],[346.5,.285],[352.5,.155],[355.5,.115],[349.5,.135],[343.5,.175],[358.5,.235],[351.5,.075],[348.5,.025],[354.5,.015],
[376.5,.205],[380.5,.165],[384.5,.125],[388.5,.085],[377.5,.045],[381.5,.025],[385.5,.065],[389.5,.045],[383.5,.005],[386.5,.012],
[379.5,.185],[383.5,.235],[387.5,.145],[391.5,.105],[374.5,.115]
];

Chart.defaults.font.family = '"Liberation Sans", Arial, sans-serif';
Chart.defaults.color = '#111';

const ink = '#111';

const boxPlugin = {
  id: 'plotBox',
  afterDatasetsDraw(chart) {
    const { ctx, chartArea: a } = chart;
    ctx.save();
    ctx.strokeStyle = '#222';
    ctx.lineWidth = 1.3;
    ctx.strokeRect(a.left, a.top, a.right - a.left, a.bottom - a.top);
    ctx.restore();
  }
};

function toXY(pairs) {
  return pairs.map(p => ({ x: p[0], y: p[1] }));
}

function makePanel(id, cfg) {
  new Chart(document.getElementById(id), {
    type: 'scatter',
    data: {
      datasets: [
        {
          data: toXY(cfg.points),
          pointRadius: 2.6,
          borderWidth: 1.5,
          borderColor: '#000',
          backgroundColor: 'rgba(0,0,0,0)'
        },
        Object.assign({
          data: cfg.line,
          showLine: true,
          pointRadius: 0,
          borderColor: '#222',
          borderWidth: 1.2
        }, cfg.lineStyle)
      ]
    },
    options: {
      responsive: false,
      animation: false,
      events: [],
      devicePixelRatio: 1,
      layout: { padding: { left: 0, right: 31, top: cfg.padTop, bottom: 0 } },
      plugins: { legend: { display: false }, tooltip: { enabled: false } },
      scales: {
        x: {
          type: 'linear',
          min: cfg.xMin,
          max: cfg.xMax,
          afterBuildTicks: s => { s.ticks = cfg.xTicks.map(v => ({ value: v })); },
          afterFit: s => { s.height = cfg.xHeight; s.paddingLeft = 0; s.paddingRight = 0; },
          ticks: {
            font: { size: 19 },
            color: ink,
            padding: cfg.xTickPad,
            maxRotation: 0,
            autoSkip: false,
            callback: cfg.xFormat
          },
          grid: { drawOnChartArea: false, tickLength: 11, color: '#222', lineWidth: 1.2 },
          border: { display: false },
          title: {
            display: true,
            text: cfg.xTitle,
            font: { size: 23 },
            color: ink,
            padding: { top: 0, bottom: cfg.titlePad }
          }
        },
        y: {
          type: 'linear',
          min: cfg.yMin,
          max: cfg.yMax,
          afterBuildTicks: s => { s.ticks = simTicks.map(v => ({ value: v })); },
          afterFit: s => { s.width = 96; s.paddingTop = 0; s.paddingBottom = 0; },
          ticks: {
            font: { size: 19 },
            color: ink,
            padding: 12,
            autoSkip: false,
            callback: v => v.toFixed(1)
          },
          grid: { drawOnChartArea: false, tickLength: 11, color: '#222', lineWidth: 1.2 },
          border: { display: false }
        }
      }
    },
    plugins: [boxPlugin]
  });
}

const envMin = 0.485, envMax = 4.203;
const geoMin = -20.5, geoMax = 506.4;

makePanel('envChart', {
  points: envSim.concat(envDense),
  line: fitX.map((x, i) => ({ x: x, y: fitY[i] })),
  lineStyle: {},
  xMin: envMin, xMax: envMax,
  yMin: -0.038, yMax: 1.038,
  xTicks: envTicks,
  xFormat: v => v.toFixed(1),
  xTitle: 'Environmental distance (Euclidean)',
  padTop: 12, xHeight: 71, xTickPad: 2, titlePad: 7
});

makePanel('geoChart', {
  points: geoSim.concat(geoDense),
  line: [{ x: geoMin, y: meanSim }, { x: geoMax, y: meanSim }],
  lineStyle: { borderDash: [2, 2.5], borderWidth: 1.3 },
  xMin: geoMin, xMax: geoMax,
  yMin: -0.041, yMax: 1.041,
  xTicks: geoTicks,
  xFormat: v => String(v),
  xTitle: 'Geographical distance (km)',
  padTop: 20, xHeight: 63, xTickPad: 0, titlePad: 0
});
</script>
</body>
</html>
